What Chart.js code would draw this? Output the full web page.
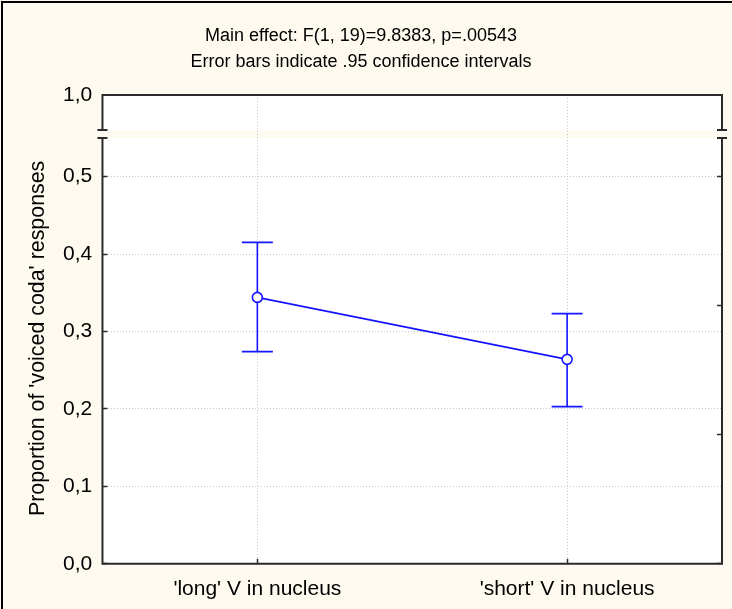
<!DOCTYPE html>
<html><head><meta charset="utf-8">
<script src="https://cdn.jsdelivr.net/npm/chart.js@4/dist/chart.umd.min.js"></script>
<style>html,body{margin:0;padding:0;background:#fefaf0;}canvas{display:block}</style>
</head><body>
<canvas id="c" width="732" height="609"></canvas>
<script>
// ---- data ----
const categories = ["'long' V in nucleus", "'short' V in nucleus"];
const means = [0.344, 0.264];
const ciLow = [0.274, 0.203];
const ciHigh = [0.415, 0.323];
const yTicks = [0, 0.1, 0.2, 0.3, 0.4, 0.5];
const yTickLabels = ['0,0', '0,1', '0,2', '0,3', '0,4', '0,5'];
const yTopTicks = [1.0];
const yTopTickLabels = ['1,0'];
const rightTicks = [0, 1/6, 2/6, 3/6];
const titleLines = ['Main effect: F(1, 19)=9.8383, p=.00543', 'Error bars indicate .95 confidence intervals'];
const yTitle = "Proportion of 'voiced coda' responses";

// ---- style ----
const FONT = "'Liberation Sans', Arial, sans-serif";
const CREAM = '#fefaf0';
const BLUE = '#1414ff';
const FRAME = '#2a2a2a';
const GRID = '#c8c8c8';
const GAP = 8;

const decor = {
  id: 'decor',
  beforeDraw(chart) {
    const {ctx, chartArea: a} = chart;
    ctx.save();
    ctx.fillStyle = CREAM;
    ctx.fillRect(0, 0, chart.width, chart.height);
    ctx.fillStyle = '#ffffff';
    ctx.fillRect(a.left, a.top, a.width, a.height);
    const yt = chart.scales.yTop;
    ctx.fillStyle = CREAM;
    ctx.fillRect(a.left - 1, yt.bottom - GAP, a.width + 2, GAP);
    ctx.strokeStyle = '#000';
    ctx.lineWidth = 2;
    ctx.beginPath();
    ctx.moveTo(2, chart.height); ctx.lineTo(2, 2); ctx.lineTo(chart.width, 2);
    ctx.stroke();
    ctx.restore();
  },
  beforeDatasetsDraw(chart) {
    const {ctx} = chart;
    const xs = chart.scales.x, ys = chart.scales.y;
    ctx.save();
    ctx.strokeStyle = BLUE;
    ctx.lineWidth = 1.6;
    for (let i = 0; i < means.length; i++) {
      const x = xs.getPixelForValue(i);
      const yl = ys.getPixelForValue(ciLow[i]);
      const yh = ys.getPixelForValue(ciHigh[i]);
      ctx.beginPath();
      ctx.moveTo(x, yl); ctx.lineTo(x, yh);
      ctx.moveTo(x - 15.5, yl); ctx.lineTo(x + 15.5, yl);
      ctx.moveTo(x - 15.5, yh); ctx.lineTo(x + 15.5, yh);
      ctx.stroke();
    }
    ctx.restore();
  },
  afterDraw(chart) {
    const {ctx, chartArea: a} = chart;
    const yt = chart.scales.yTop;
    const bTop = yt.bottom - GAP, bBot = yt.bottom;
    ctx.save();
    ctx.strokeStyle = FRAME;
    ctx.lineWidth = 2;
    ctx.beginPath();
    ctx.moveTo(a.left, a.top); ctx.lineTo(a.right, a.top);
    ctx.moveTo(a.left - 1, a.bottom); ctx.lineTo(a.right + 1, a.bottom);
    for (const x of [a.left, a.right]) {
      ctx.moveTo(x, a.top - 1); ctx.lineTo(x, bTop);
      ctx.moveTo(x, bBot); ctx.lineTo(x, a.bottom);
      ctx.moveTo(x - 5, bTop); ctx.lineTo(x + 5, bTop);
      ctx.moveTo(x - 5, bBot); ctx.lineTo(x + 5, bBot);
    }
    ctx.stroke();
    ctx.restore();
  }
};

const tickFont = {family: FONT, size: 21, lineHeight: 1.2};

new Chart(document.getElementById('c'), {
  type: 'line',
  data: {
    labels: categories,
    datasets: [{
      data: means,
      xAxisID: 'x', yAxisID: 'y',
      borderColor: BLUE, borderWidth: 1.6,
      pointRadius: 5, pointHoverRadius: 5,
      pointBackgroundColor: '#ffffff', pointBorderColor: BLUE, pointBorderWidth: 1.6,
      tension: 0
    }]
  },
  options: {
    responsive: false,
    animation: false,
    devicePixelRatio: 1,
    layout: {padding: {left: 0, right: 10, top: 0, bottom: -11}},
    plugins: {
      legend: {display: false},
      tooltip: {enabled: false},
      title: {
        display: true, text: titleLines, color: '#000',
        font: {family: FONT, size: 18, weight: 'normal', lineHeight: 1.444},
        padding: {top: 23, bottom: 20}
      }
    },
    scales: {
      x: {
        type: 'category', position: 'bottom', offset: true,
        grid: {offset: false, color: GRID, lineWidth: 1, tickLength: -5, tickColor: FRAME, tickWidth: 1.5},
        border: {display: false, dash: [1, 2]},
        ticks: {color: '#000', font: tickFont, padding: 18, maxRotation: 0, autoSkip: false}
      },
      y: {
        type: 'linear', position: 'left', stack: 'L', stackWeight: 427,
        min: 0, max: 0.55,
        afterBuildTicks: s => { s.ticks = yTicks.map(v => ({value: v})); },
        ticks: {color: '#000', font: tickFont, padding: 15.3, callback: (v, i) => yTickLabels[i]},
        grid: {color: GRID, lineWidth: 1, tickLength: -5, tickColor: FRAME, tickWidth: 1.5},
        border: {display: false, dash: [1, 2]}
      },
      yTop: {
        type: 'linear', position: 'left', stack: 'L', stackWeight: 43,
        min: 0.95, max: 1.0,
        afterBuildTicks: s => { s.ticks = yTopTicks.map(v => ({value: v})); },
        ticks: {color: '#000', font: tickFont, padding: 15.3, callback: (v, i) => yTopTickLabels[i]},
        grid: {display: false, tickLength: -5},
        border: {display: false}
      },
      yRTop: {
        type: 'linear', position: 'right', stack: 'R', stackWeight: 43,
        min: 0.95, max: 1.0, display: false
      },
      yR: {
        type: 'linear', position: 'right', stack: 'R', stackWeight: 427,
        min: 0, max: 0.55,
        afterBuildTicks: s => { s.ticks = rightTicks.map(v => ({value: v})); },
        ticks: {display: false},
        grid: {drawOnChartArea: false, tickLength: -5, tickColor: FRAME, tickWidth: 1.5},
        border: {display: false}
      },
      yT: {
        type: 'linear', position: 'left', stack: 'T', stackWeight: 452,
        min: 0, max: 1,
        ticks: {display: false},
        grid: {display: false, drawTicks: false},
        border: {display: false},
        title: {display: true, text: yTitle, color: '#000', font: {family: FONT, size: 21.4, lineHeight: 1.2}, padding: {top: 25.4, bottom: -3.4}}
      },
      yTPad: {
        type: 'linear', position: 'left', stack: 'T', stackWeight: 18,
        min: 0, max: 1, display: false
      }
    }
  },
  plugins: [decor]
});
</script>
</body></html>
